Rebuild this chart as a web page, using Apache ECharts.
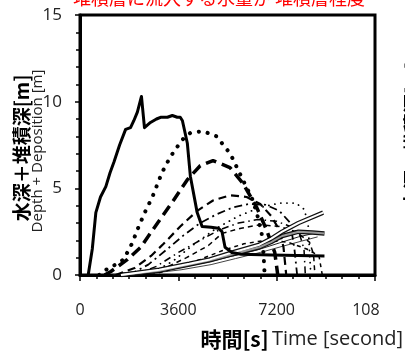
<!DOCTYPE html>
<html>
<head>
<meta charset="utf-8">
<script src="https://cdn.jsdelivr.net/npm/echarts@6/dist/echarts.min.js"></script>
<style>
  html, body { margin: 0; padding: 0; background: #fff; }
  #chart { width: 405px; height: 358px; }
</style>
</head>
<body>
<div id="chart"></div>
<script>
// Time axis [s]
const xMin = 0, xMax = 10800, xStep = 3600;
const xTickLabels = ['0', '3600', '7200', '10800'];
// Depth + deposition axis [m]
const yMin = 0, yMax = 15, yStep = 5;

// [time s, depth + deposition m]
const obsSolid = [[300,0],[330,0.1],[450,1.5],[580,3.6],[750,4.5],[945,5.1],[1100,5.9],[1240,6.5],[1450,7.5],[1670,8.4],[1850,8.5],[1970,8.9],[2100,9.4],[2250,10.3],[2360,8.5],[2580,8.8],[2800,9.0],[2950,9.1],[3200,9.1],[3380,9.2],[3560,9.1],[3670,9.1],[3750,8.9],[3930,7.6],[4040,5.7],[4290,3.6],[4470,2.8],[4800,2.75],[5060,2.7],[5200,2.5],[5310,1.6],[5560,1.3],[5900,1.2],[7000,1.15],[8950,1.1]];
const caseDotted = [[700,0],[950,0.3],[1300,0.6],[1600,0.9],[1900,1.8],[2150,2.8],[2400,3.7],[2650,4.5],[3000,5.9],[3300,6.8],[3560,7.4],[3800,7.9],[4040,8.2],[4500,8.3],[5000,8.0],[5500,7.0],[5960,5.5],[6330,4.3],[6500,3.4],[6650,2.4],[6720,1.2],[6760,0]];
const caseDashedHeavy = [[900,0],[1130,0.2],[1740,0.9],[2220,1.6],[2840,3.0],[3420,4.3],[3930,5.5],[4400,6.3],[4870,6.6],[5490,6.2],[5960,5.3],[6470,3.9],[6830,2.6],[7130,1.3],[7240,0]];
const caseDashed = [[1300,0],[2000,0.4],[2600,1.1],[3060,1.8],[3670,2.8],[4290,3.7],[4870,4.3],[5500,4.6],[6100,4.5],[6600,4.1],[7000,3.4],[7300,2.6],[7450,1.6],[7550,0]];
const caseDashDot = [[1800,0],[2500,0.6],[3200,1.5],[3800,2.3],[4400,3.0],[5000,3.5],[5600,3.9],[6200,4.1],[6800,4.05],[7300,3.7],[7700,3.0],[7850,1.5],[7950,0]];
const caseLongDash = [[2500,0],[3400,0.8],[4200,1.8],[5000,2.7],[5800,3.4],[6600,3.9],[7300,4.15],[7900,4.15],[8200,3.8],[8350,3.0],[8450,0]];
const caseFineDash1 = [[2000,0],[2800,0.5],[3600,1.3],[4400,2.0],[5100,2.6],[5800,3.0],[6500,3.2],[7200,3.1],[7700,2.8],[8050,2.3],[8200,1.5],[8250,0]];
const caseFineDash2 = [[2300,0],[3100,0.4],[3900,1.0],[4700,1.7],[5200,2.4],[5900,2.7],[6600,2.9],[7300,2.8],[7900,2.5],[8400,1.9],[8550,1.2],[8600,0]];
const caseFineDash3 = [[2600,0],[3500,0.4],[4400,0.9],[5200,1.4],[6000,1.8],[6800,2.0],[7600,1.9],[8300,1.5],[8750,1.1],[8870,0]];
const sedimentA = [[1500,0],[2900,0.3],[4000,0.65],[4750,0.9],[5580,1.3],[6570,1.75],[7000,2.1],[7400,2.5],[8000,3.0],[8900,3.6]];
const sedimentB = [[1500,0],[2900,0.25],[4000,0.6],[4750,0.85],[5580,1.2],[6570,1.6],[7000,1.9],[7400,2.25],[8000,2.5],[8500,2.45],[8950,2.4]];
const sedimentC = [[1200,0],[2500,0.15],[3600,0.4],[4700,0.75],[5600,1.1],[6500,1.45],[7300,1.85],[8000,2.2],[8700,2.45]];
const sedimentD = [[1300,0],[2600,0.1],[3700,0.3],[4800,0.6],[5700,0.95],[6600,1.3],[7400,1.65],[8100,1.95],[8700,2.2]];

const titleText = '堆積層に流入する水量が 堆積層程度';
const yNameJa = '水深＋堆積深[m]';
const yNameEn = 'Depth + Deposition [m]';

const chart = echarts.init(document.getElementById('chart'), null, { renderer: 'canvas' });

function line(data, style, z) {
  return {
    type: 'line', data: data, showSymbol: false, symbol: 'none',
    lineStyle: Object.assign({ color: '#000' }, style),
    z: z || 2, animation: false
  };
}

chart.setOption({
  animation: false,
  grid: { left: 80, right: 30, top: 15, bottom: 83, show: true, borderColor: '#000', borderWidth: 3 },
  xAxis: {
    type: 'value', min: xMin, max: xMax, interval: xStep,
    axisLine: { show: true, lineStyle: { color: '#000', width: 3 } },
    axisTick: { show: true, length: 6, lineStyle: { color: '#000', width: 1.5 } },
    minorTick: { show: true, splitNumber: 6, length: 4, lineStyle: { color: '#000', width: 1.5 } },
    splitLine: { show: false },
    axisLabel: {
      margin: 27, color: '#222', fontSize: 16, fontFamily: 'Open Sans',
      formatter: v => xTickLabels[Math.round(v / xStep)]
    }
  },
  yAxis: {
    type: 'value', min: yMin, max: yMax, interval: yStep,
    axisLine: { show: true, lineStyle: { color: '#000', width: 3 } },
    axisTick: { show: true, length: 5, lineStyle: { color: '#000', width: 1.5 } },
    minorTick: { show: true, splitNumber: 5, length: 4, lineStyle: { color: '#000', width: 1.5 } },
    splitLine: { show: false },
    axisLabel: { margin: 18, color: '#222', fontSize: 17, fontFamily: 'Open Sans' }
  },
  series: [
    // sediment bundle: outlined ribbons
    line(sedimentD, { width: 1, color: '#444' }, 1),
    line(sedimentC, { width: 1, color: '#222' }, 1),
    line(sedimentB, { width: 4.5, color: '#111' }, 2),
    line(sedimentB, { width: 2, color: '#999' }, 3),
    line(sedimentA, { width: 4.5, color: '#111' }, 2),
    line(sedimentA, { width: 2, color: '#fff' }, 3),
    // flow cases
    line(caseFineDash3, { width: 1.5, type: [4, 4] }),
    line(caseFineDash2, { width: 1.5, type: [5, 4] }),
    line(caseFineDash1, { width: 1.5, type: [7, 4, 1.5, 4] }),
    line(caseLongDash, { width: 1.8, type: [0.1, 6], cap: 'round' }),
    line(caseDashDot, { width: 1.8, type: [8, 4, 2, 4] }),
    line(caseDashed, { width: 2.2, type: [8, 5] }),
    line(caseDashedHeavy, { width: 3.5, type: [11, 6] }),
    line(caseDotted, { width: 4, type: [0.1, 9], cap: 'round' }),
    line(obsSolid, { width: 3, join: 'round' }, 5)
  ],
  graphic: [
    {
      type: 'text', x: 73, y: -11, silent: true,
      style: { text: titleText, fill: '#ff0000', fontSize: 18, fontFamily: 'Noto Sans CJK JP', textAlign: 'left', textVerticalAlign: 'top' }
    },
    {
      type: 'rect', shape: { x: 379, y: 288, width: 26, height: 34 }, silent: true,
      style: { fill: '#fff' }, z: 100
    },
    {
      type: 'text', x: 22, y: 148, rotation: Math.PI / 2, silent: true,
      style: { text: yNameJa, fill: '#000', fontSize: 19, fontWeight: 'bold', fontFamily: 'Noto Sans CJK JP', textAlign: 'center', textVerticalAlign: 'middle' }
    },
    {
      type: 'text', x: 38, y: 151, rotation: Math.PI / 2, silent: true,
      style: { text: yNameEn, fill: '#222', fontSize: 15, fontFamily: 'Open Sans', textAlign: 'center', textVerticalAlign: 'middle' }
    },
    {
      type: 'text', x: 413, y: 135, rotation: Math.PI / 2, silent: true,
      style: { text: yNameJa, fill: '#000', fontSize: 19, fontWeight: 'bold', fontFamily: 'Noto Sans CJK JP', textAlign: 'center', textVerticalAlign: 'middle' }
    },
    {
      type: 'text', x: 403, y: 339, silent: true,
      style: {
        text: '{b|時間[s]} {r|Time [second]}',
        textAlign: 'right', textVerticalAlign: 'middle',
        rich: {
          b: { fontSize: 21, fontWeight: 'bold', fontFamily: 'Noto Sans CJK JP', fill: '#000', color: '#000' },
          r: { fontSize: 20, fontFamily: 'Open Sans', fill: '#222', color: '#222' }
        }
      }
    }
  ]
});
</script>
</body>
</html>
